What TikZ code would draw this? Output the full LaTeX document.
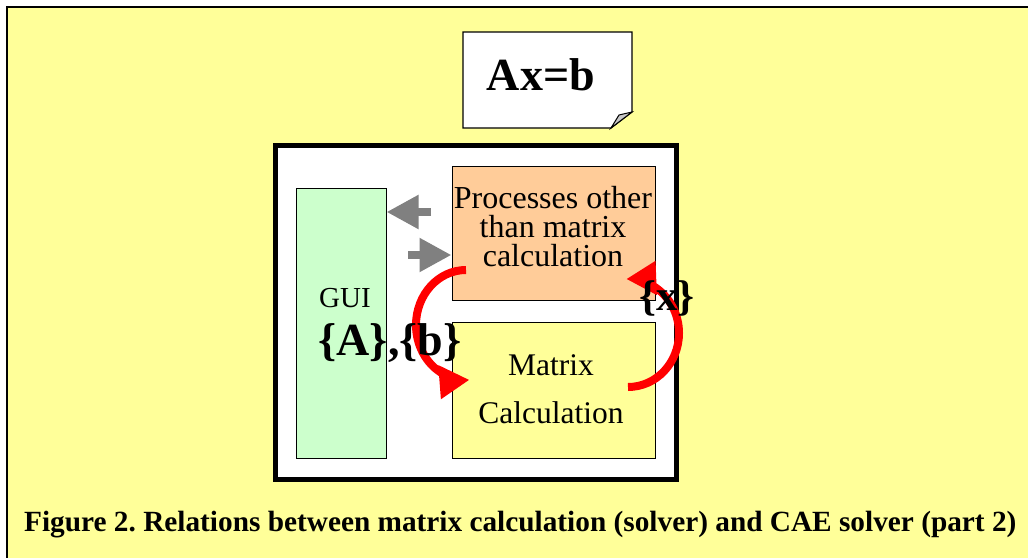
\documentclass[tikz,border=0pt]{standalone}
\usepackage{fontspec}
\setmainfont{Liberation Serif}
\usetikzlibrary{arrows.meta}
\definecolor{bgyellow}{HTML}{FFFF99}
\definecolor{guigreen}{HTML}{CCFFCC}
\definecolor{procorange}{HTML}{FFCC99}
\definecolor{arrowgray}{HTML}{808080}
\definecolor{foldgray}{HTML}{C8C8C8}
\definecolor{flowred}{HTML}{FF0000}
\frenchspacing
\begin{document}
\begin{tikzpicture}[x=1pt,y=-1pt,
  box/.style={draw=black, line width=1pt, inner sep=0pt},
  grayarrow/.style={draw=arrowgray, line width=8pt, -{Triangle[length=32pt,width=32pt]}},
  redarrow/.style={draw=flowred, line width=8pt, -{Triangle[length=30pt,width=32pt]}},
  txt/.style={inner sep=0pt, font=\fontsize{31.5}{29}\selectfont, align=center},
  bigbold/.style={inner sep=0pt, font=\fontsize{46}{50}\selectfont\bfseries}
]
\useasboundingbox (0,0) rectangle (1028,557);
\begin{scope}
  \clip (0,0) rectangle (1028,557);
  \fill[bgyellow, draw=black, line width=2pt] (7,7) rectangle (1040,570);
\end{scope}

% note with folded corner
\draw[fill=white, line width=1.2pt] (463,32) -- (632,32) -- (632,112) -- (611,128) -- (463,128) -- cycle;
\draw[fill=foldgray, line width=1pt] (611,128) -- (619,115) -- (632,112) -- cycle;
\node[bigbold] (eq) at (541,75) {Ax=b};

% outer frame
\node[draw=black, fill=white, line width=5pt, minimum width=401pt, minimum height=334pt, inner sep=0pt] (frame) at (476,312.5) {};

% boxes
\node[box, fill=guigreen, minimum width=90pt, minimum height=270pt] (gui) at (341,323) {};
\node[box, fill=procorange, minimum width=203pt, minimum height=134pt] (proc) at (553.5,233) {};
\node[box, fill=bgyellow, minimum width=203pt, minimum height=136pt] (mat) at (553.5,390) {};

% gray arrows
\coordinate (gA) at (431,212);
\coordinate (gB) at (408,255);
\draw[grayarrow] (gA) -- (gA -| gui.east);
\draw[grayarrow] (gB) -- (gB -| proc.west);

% red arcs
\coordinate (r1) at (466,270);
\coordinate (r2) at (628,387);
\draw[redarrow] (r1) arc[start angle=270, end angle=86, x radius=50, y radius=55];
\draw[redarrow] (r2) arc[start angle=90, end angle=-92, x radius=51, y radius=54];

% texts
\node[txt, font=\fontsize{32}{29}\selectfont] (proctxt) at (553,227) {Processes other\\than matrix\\calculation};
\node[txt, font=\fontsize{29}{30}\selectfont] (guitxt) at (345,298) {GUI};
\node[bigbold] (ab) at (390,343) {\{A\},\{b\}};
\node[bigbold, font=\fontsize{43}{46}\selectfont\bfseries] (xv) at (667,298) {\{x\}};
\node[txt] (m1) at (551,365) {Matrix};
\node[txt] (m2) at (551,413) {Calculation};

\node[inner sep=0pt, anchor=base west, font=\fontsize{29.3}{31}\selectfont\bfseries] (cap) at (24,531)
  {Figure 2. Relations between matrix calculation (solver) and CAE solver (part 2)};
\end{tikzpicture}
\end{document}
